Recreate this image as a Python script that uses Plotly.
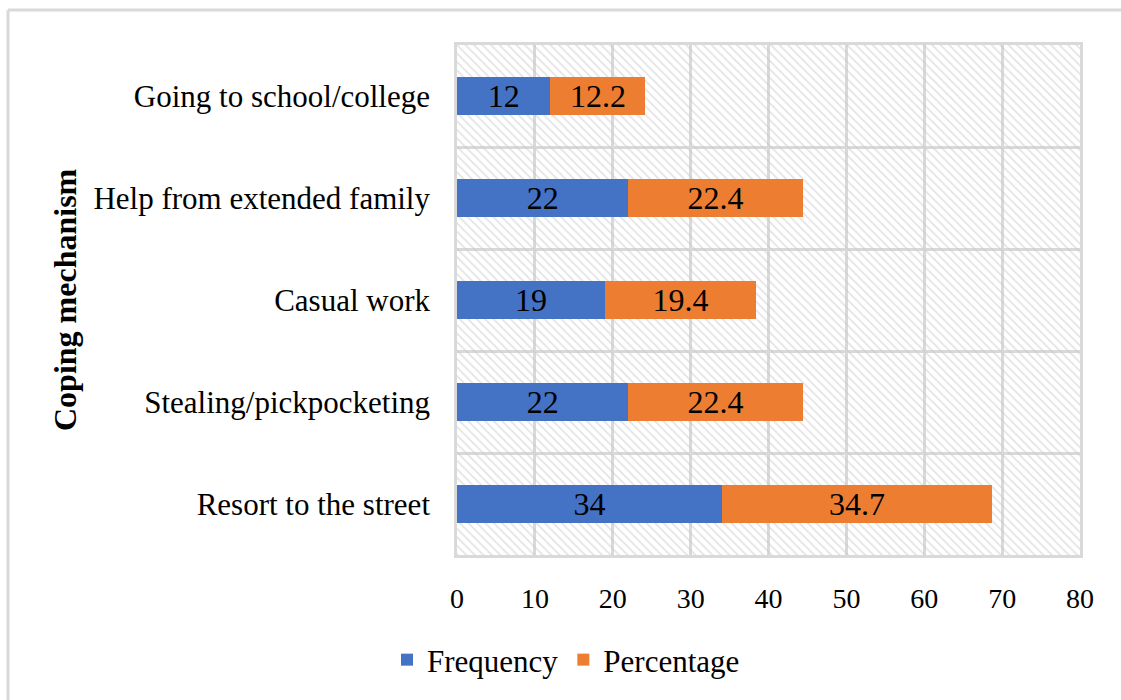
import plotly.graph_objects as go

# Coping mechanisms, bottom to top as drawn on the axis
mechanisms = [
    "Resort to the street",
    "Stealing/pickpocketing",
    "Casual work",
    "Help from extended family",
    "Going to school/college",
]
frequency = [34, 22, 19, 22, 12]
percentage = [34.7, 22.4, 19.4, 22.4, 12.2]
x_ticks = [0, 10, 20, 30, 40, 50, 60, 70, 80]

W, H = 1121, 700
L, R, T, B = 457, 41, 45, 145
PW, PH = W - L - R, H - T - B
FONT = "Liberation Serif"
GRID = "#d9d9d9"

fig = go.Figure()

# Hatched plot background, drawn on the numeric base axis
fig.add_trace(go.Bar(
    x=[x_ticks[-1]], y=[(len(mechanisms) - 1) / 2], width=[len(mechanisms)],
    orientation="h", xaxis="x", yaxis="y",
    marker=dict(color="rgba(0,0,0,0)", line=dict(width=0),
                pattern=dict(shape="\\", fgcolor="#c8c8c8", size=6, solidity=0.3)),
    hoverinfo="skip", showlegend=False,
))

for name, vals, color in [("Frequency", frequency, "#4472C4"),
                          ("Percentage", percentage, "#ED7D31")]:
    fig.add_trace(go.Bar(
        name=name, y=mechanisms, x=vals, orientation="h",
        xaxis="x", yaxis="y2",
        marker=dict(color=color, line=dict(width=0)),
        text=[str(v) for v in vals], textposition="inside",
        insidetextanchor="middle", textangle=0, constraintext="none",
        textfont=dict(family=FONT, size=32, color="black"),
    ))

n = len(mechanisms)
fig.update_layout(
    width=W, height=H,
    margin=dict(l=L, r=R, t=T, b=B, autoexpand=False),
    paper_bgcolor="white", plot_bgcolor="white",
    barmode="stack", bargap=0.62,
    font=dict(family=FONT, size=30, color="black"),
    xaxis=dict(
        range=[x_ticks[0], x_ticks[-1]], tickvals=x_ticks,
        showgrid=True, gridcolor=GRID, gridwidth=3,
        zeroline=False, showline=True, linecolor=GRID, linewidth=3,
        mirror=True, ticks="", ticklabelstandoff=16,
        tickfont=dict(family=FONT, size=28, color="black"),
    ),
    yaxis=dict(
        range=[-0.5, n - 0.5], tickvals=[i - 0.5 for i in range(n + 1)],
        showticklabels=False, showgrid=True, gridcolor=GRID, gridwidth=3,
        zeroline=False, showline=True, linecolor=GRID, linewidth=3, mirror=True,
        ticks="",
    ),
    yaxis2=dict(
        overlaying="y", side="left", type="category",
        categoryorder="array", categoryarray=mechanisms,
        range=[-0.5, n - 0.5], showgrid=False, zeroline=False,
        showline=False, ticks="", ticklabelstandoff=26,
        tickfont=dict(family=FONT, size=31, color="black"),
    ),
    legend=dict(
        orientation="h", x=0.5 - (L + PW / 2 - 566) / PW, xanchor="center",
        y=-(660 - 555) / PH, yanchor="middle",
        font=dict(family=FONT, size=31, color="black"),
        traceorder="normal", itemwidth=30,
    ),
    annotations=[dict(
        text="<b>Coping mechanism</b>", textangle=-90,
        xref="paper", yref="paper", x=-(L - 65) / PW, y=1 - (300 - T) / PH,
        xanchor="center", yanchor="middle", showarrow=False,
        font=dict(family=FONT, size=32, color="black"),
    )],
    shapes=[
        dict(type="line", xref="paper", yref="paper",
             x0=-(L - 8) / PW, x1=(W - L + 20) / PW,
             y0=1 + (T - 10) / PH, y1=1 + (T - 10) / PH,
             line=dict(color=GRID, width=3)),
        dict(type="line", xref="paper", yref="paper",
             x0=-(L - 8) / PW, x1=-(L - 8) / PW,
             y0=1 + (T - 10) / PH, y1=-(B + 20) / PH,
             line=dict(color=GRID, width=3)),
    ],
)

fig.write_html("out.html")
